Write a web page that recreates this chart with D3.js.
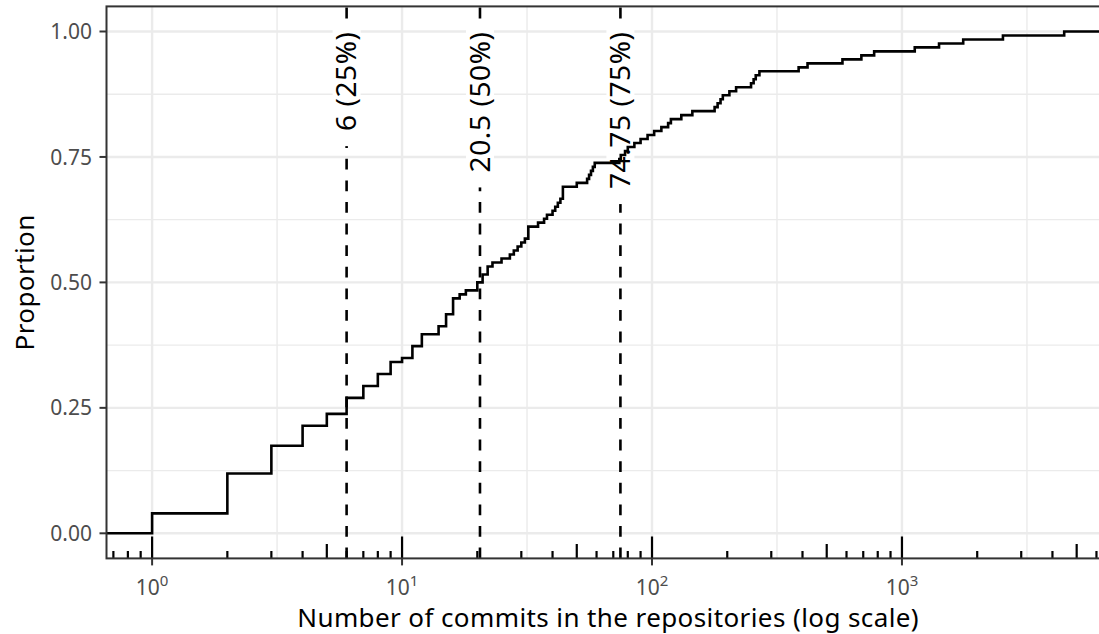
<!DOCTYPE html>
<meta charset="utf-8">
<title>ECDF of commits per repository</title>
<style>
body { margin: 0; background: #fff; }
text { font-family: "Noto Sans", "Open Sans", sans-serif; }
.tick-label { font-size: 21px; fill: #4d4d4d; }
.axis-title { font-size: 26px; fill: #000; letter-spacing: 0.4px; }
.q-label { font-size: 28px; fill: #000; letter-spacing: 0.6px; }
</style>
<svg id="chart" width="1099" height="634"></svg>
<script src="https://d3js.org/d3.v7.min.js"></script>
<script>

var commitValues = [1, 2, 3, 4, 5, 6, 7, 8, 9, 10, 11, 12, 14, 15, 16, 17, 18, 20, 21, 22,
  23, 25, 27, 28, 29, 30, 31, 32, 35, 37, 38, 40, 41, 42, 43, 44, 50, 55, 56, 57,
  58, 59, 74, 75, 78, 80, 85, 90, 96, 102, 109, 116, 119, 131, 145, 178, 183, 188, 192, 204,
  217, 249, 255, 260, 269, 386, 419, 578, 688, 774, 1125, 1407, 1758, 2535, 4457];
var repoCounts = [5, 10, 7, 5, 3, 4, 3, 3, 3, 1, 3, 3, 2, 3, 4, 1, 1, 2, 2, 2,
  1, 1, 1, 1, 1, 1, 1, 3, 1, 1, 1, 1, 1, 1, 1, 3, 1, 1, 1, 1,
  1, 1, 1, 1, 1, 1, 1, 1, 1, 1, 1, 1, 1, 1, 1, 1, 1, 1, 1, 1,
  1, 1, 1, 1, 1, 1, 1, 1, 1, 1, 1, 1, 1, 1, 1];
var quantileProbs = [0.25, 0.5, 0.75];
var yTicks = [0, 0.25, 0.5, 0.75, 1];
var xTickExps = [0, 1, 2, 3];

var svg = d3.select("#chart"),
    width = +svg.attr("width"),
    height = +svg.attr("height");

var panel = {left: 106.5, top: 6.4, right: 1109.8, bottom: 558.4};

// raw sample, sorted
var sample = [];
commitValues.forEach(function(v, i) { for (var k = 0; k < repoCounts[i]; k++) sample.push(v); });
var n = sample.length;

// cumulative proportions
var cum = 0;
var ecdf = commitValues.map(function(v, i) { cum += repoCounts[i]; return {x: v, y: cum / n}; });

// ggplot style 5% expansion in log space
var L0 = Math.log10(d3.min(commitValues)), L1 = Math.log10(d3.max(commitValues));
var pad = (L1 - L0) * 0.05;
var x = d3.scaleLog()
    .domain([Math.pow(10, L0 - pad), Math.pow(10, L1 + pad)])
    .range([panel.left, panel.right]);
var y = d3.scaleLinear()
    .domain([-0.05, 1.05])
    .range([panel.bottom, panel.top]);

svg.append("rect").attr("width", width).attr("height", height).attr("fill", "#fff");

svg.append("defs").append("clipPath").attr("id", "clip")
  .append("rect")
    .attr("x", panel.left).attr("y", panel.top)
    .attr("width", panel.right - panel.left).attr("height", panel.bottom - panel.top);

var g = svg.append("g").attr("clip-path", "url(#clip)");

// grid
var lx0 = Math.floor(L0 - pad), lx1 = Math.ceil(L1 + pad);
var xMinor = d3.range(lx0, lx1).map(function(e) { return Math.pow(10, e + 0.5); });
var yMinor = [0.125, 0.375, 0.625, 0.875];

g.selectAll(".gx-minor").data(xMinor).enter().append("line")
    .attr("x1", function(d) { return x(d); }).attr("x2", function(d) { return x(d); })
    .attr("y1", panel.top).attr("y2", panel.bottom)
    .attr("stroke", "#ebebeb").attr("stroke-width", 1.4);
g.selectAll(".gy-minor").data(yMinor).enter().append("line")
    .attr("x1", panel.left).attr("x2", panel.right)
    .attr("y1", function(d) { return y(d); }).attr("y2", function(d) { return y(d); })
    .attr("stroke", "#ebebeb").attr("stroke-width", 1.4);
g.selectAll(".gx-major").data(xTickExps).enter().append("line")
    .attr("x1", function(d) { return x(Math.pow(10, d)); }).attr("x2", function(d) { return x(Math.pow(10, d)); })
    .attr("y1", panel.top).attr("y2", panel.bottom)
    .attr("stroke", "#ebebeb").attr("stroke-width", 2.4);
g.selectAll(".gy-major").data(yTicks).enter().append("line")
    .attr("x1", panel.left).attr("x2", panel.right)
    .attr("y1", function(d) { return y(d); }).attr("y2", function(d) { return y(d); })
    .attr("stroke", "#ebebeb").attr("stroke-width", 2.4);

// quantile lines (drawn bottom to top so the dash pattern starts at the bottom)
var quants = quantileProbs.map(function(p) { return {p: p, q: d3.quantile(sample, p)}; });

g.selectAll(".qline").data(quants).enter().append("line")
    .attr("x1", function(d) { return x(d.q); }).attr("x2", function(d) { return x(d.q); })
    .attr("y1", panel.bottom).attr("y2", panel.top)
    .attr("stroke", "#000").attr("stroke-width", 2.6)
    .attr("stroke-dasharray", "10.8,10.8");

// labels on a tight white box
var lab = g.selectAll(".qlab").data(quants).enter().append("g")
    .attr("transform", function(d) { return "translate(" + x(d.q) + "," + y(1) + ") rotate(-90)"; });
lab.append("rect").attr("fill", "#fff");
lab.append("text")
    .attr("class", "q-label")
    .attr("text-anchor", "end")
    .attr("dy", "0.35em")
    .text(function(d) { return d.q + " (" + Math.round(d.p * 100) + "%)"; });
lab.each(function() {
  var t = d3.select(this).select("text").node().getBBox();
  d3.select(this).select("rect")
    .attr("x", t.x - 15).attr("y", -14)
    .attr("width", t.width + 27).attr("height", 28);
});

// ecdf step line
var pts = [{x: x.domain()[0], y: 0}].concat(ecdf, [{x: x.domain()[1], y: 1}]);
g.append("path")
    .datum(pts)
    .attr("fill", "none")
    .attr("stroke", "#000")
    .attr("stroke-width", 2.6)
    .attr("d", d3.line()
      .x(function(d) { return x(d.x); })
      .y(function(d) { return y(d.y); })
      .curve(d3.curveStepAfter));

// log ticks along the bottom
var logTicks = [];
d3.range(lx0, lx1 + 1).forEach(function(e) {
  for (var m = 1; m <= 9; m++) logTicks.push({v: m * Math.pow(10, e), len: m === 1 ? 22 : m === 5 ? 14.5 : 7.3});
});
g.selectAll(".logtick").data(logTicks).enter().append("line")
    .attr("x1", function(d) { return x(d.v); }).attr("x2", function(d) { return x(d.v); })
    .attr("y1", panel.bottom).attr("y2", function(d) { return panel.bottom - d.len; })
    .attr("stroke", "#000").attr("stroke-width", 2.2);

// panel border
svg.append("rect")
    .attr("x", panel.left).attr("y", panel.top)
    .attr("width", panel.right - panel.left).attr("height", panel.bottom - panel.top)
    .attr("fill", "none").attr("stroke", "#333").attr("stroke-width", 2);

// y axis
svg.selectAll(".ytick").data(yTicks).enter().append("line")
    .attr("x1", panel.left - 7).attr("x2", panel.left)
    .attr("y1", function(d) { return y(d); }).attr("y2", function(d) { return y(d); })
    .attr("stroke", "#333").attr("stroke-width", 2);
svg.selectAll(".ylab").data(yTicks).enter().append("text")
    .attr("class", "tick-label")
    .attr("x", 92).attr("y", function(d) { return y(d); })
    .attr("dy", "0.36em")
    .attr("text-anchor", "end")
    .text(function(d) { return d3.format(".2f")(d); });

// x axis
svg.selectAll(".xtick").data(xTickExps).enter().append("line")
    .attr("x1", function(d) { return x(Math.pow(10, d)); }).attr("x2", function(d) { return x(Math.pow(10, d)); })
    .attr("y1", panel.bottom).attr("y2", panel.bottom + 7)
    .attr("stroke", "#333").attr("stroke-width", 2);
var xl = svg.selectAll(".xlab").data(xTickExps).enter().append("text")
    .attr("class", "tick-label")
    .attr("x", function(d) { return x(Math.pow(10, d)); }).attr("y", 595)
    .attr("text-anchor", "middle");
xl.append("tspan").text("10");
xl.append("tspan").attr("dy", -9).attr("font-size", 15).text(function(d) { return d; });

// titles
svg.append("text")
    .attr("class", "axis-title")
    .attr("x", (panel.left + panel.right) / 2).attr("y", 626.5)
    .attr("text-anchor", "middle")
    .text("Number of commits in the repositories (log scale)");
svg.append("text")
    .attr("class", "axis-title")
    .attr("transform", "translate(33.5," + (panel.top + panel.bottom) / 2 + ") rotate(-90)")
    .attr("text-anchor", "middle")
    .text("Proportion");

</script>
